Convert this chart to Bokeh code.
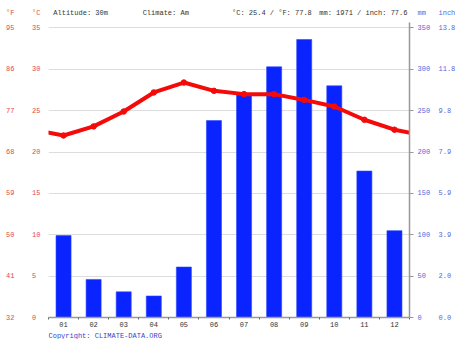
from bokeh.plotting import figure
from bokeh.models import Range1d, LinearAxis, FixedTicker, Title, ColumnDataSource
from bokeh.core.properties import value
from bokeh.embed import file_html
from bokeh.resources import INLINE

# ---------------- data ----------------
months = ["01", "02", "03", "04", "05", "06", "07", "08", "09", "10", "11", "12"]
precip_mm = [99, 46, 31, 26, 61, 238, 269, 303, 336, 280, 177, 105]
temp_c = [22.0, 23.1, 24.9, 27.2, 28.4, 27.4, 27.0, 27.0, 26.3, 25.5, 23.9, 22.7]
c_ticks = [0, 5, 10, 15, 20, 25, 30, 35]
c_labels = ["0", "5", "10", "15", "20", "25", "30", "35"]
f_labels = ["32", "41", "50", "59", "68", "77", "86", "95"]
mm_ticks = [0, 50, 100, 150, 200, 250, 300, 350]
mm_labels = ["0", "50", "100", "150", "200", "250", "300", "350"]
inch_labels = ["0.0", "2.0", "3.9", "5.9", "7.9", "9.8", "11.8", "13.8"]
header_texts = ["Altitude: 30m", "Climate: Am", "°C: 25.4 / °F: 77.8", "mm: 1971 / inch: 77.6"]
copyright_text = "Copyright: CLIMATE-DATA.ORG"

# ---------------- layout constants ----------------
FONT = "Liberation Mono"
FS = "7px"
RED_TXT = "#e0494f"
BLUE_TXT = "#5566dd"
DARK_TXT = "#333333"
NB = "\u00a0"

W, H = 458, 339
FRAME_L, FRAME_R, FRAME_T, FRAME_B = 48, 410, 8, 318
YTOP = 37.35          # top of temperature range (frame top, header row inside)
YHDR = 36.75          # header row
header_x = [0.66, 3.63, 6.6, 9.5]

p = figure(width=W, height=H, output_backend="svg", toolbar_location=None,
           x_range=Range1d(0.5, 12.5), y_range=Range1d(0, YTOP),
           x_axis_location=None, y_axis_location=None,
           min_border_left=FRAME_L, min_border_right=W - FRAME_R,
           min_border_top=FRAME_T, min_border_bottom=H - FRAME_B)
p.extra_y_ranges = {"mm": Range1d(0, YTOP * 10)}
p.outline_line_color = None

x = list(range(1, 13))
p.vbar(x=x, top=precip_mm, width=0.5, bottom=0, y_range_name="mm",
       fill_color="#0a24ff", line_color="#2a44ff", line_width=0.6)

# temperature line, wrapping Dec->Jan at both edges
tx = [0] + x + [13]
ty = [temp_c[-1]] + temp_c + [temp_c[0]]
p.line(tx, ty, line_color="#f50a0a", line_width=4, line_join="round", line_cap="round")
p.scatter(x, temp_c, size=5.5, fill_color="#f50a0a", line_color="#f50a0a")

# header row (inside the frame's top strip)
hsrc = ColumnDataSource(dict(x=header_x, y=[YHDR] * 4, t=header_texts))
p.text(x="x", y="y", text="t", source=hsrc, text_font=value(FONT),
       text_font_size=FS, text_color=DARK_TXT, text_align="left",
       text_baseline="middle")

# grid
p.xgrid.visible = False
p.ygrid.ticker = FixedTicker(ticks=c_ticks[1:])
p.ygrid.grid_line_color = "#dddddd"
p.ygrid.grid_line_width = 1


def plain(ax, color, standoff):
    ax.major_label_text_font = FONT
    ax.major_label_text_font_size = FS
    ax.major_label_text_color = color
    ax.axis_line_color = None
    ax.major_tick_line_color = None
    ax.minor_tick_line_color = None
    ax.major_tick_in = 0
    ax.major_tick_out = 0
    ax.minor_tick_in = 0
    ax.minor_tick_out = 0
    ax.major_label_standoff = standoff


def pad(s, n):
    return s + NB * (n - len(s))


# left: °C (inner) and °F (outer)
ax_c = LinearAxis(ticker=FixedTicker(ticks=c_ticks + [YHDR]),
                  major_label_overrides={**{c: pad(l, 2) for c, l in zip(c_ticks, c_labels)},
                                         YHDR: "°C"})
plain(ax_c, RED_TXT, 8)
p.add_layout(ax_c, "left")

ax_f = LinearAxis(ticker=FixedTicker(ticks=c_ticks + [YHDR]),
                  major_label_overrides={**{c: f for c, f in zip(c_ticks, f_labels)},
                                         YHDR: "°F"})
plain(ax_f, RED_TXT, 15)
p.add_layout(ax_f, "left")

# right: axis line with ticks, mm labels, inch labels
ax_line = LinearAxis(y_range_name="mm", ticker=FixedTicker(ticks=mm_ticks),
                     bounds=(0, 357),
                     major_label_overrides={m: "" for m in mm_ticks})
plain(ax_line, BLUE_TXT, 0)
ax_line.axis_line_color = "#999999"
ax_line.axis_line_width = 1.5
ax_line.major_tick_line_color = "#999999"
ax_line.major_tick_line_width = 1
ax_line.major_tick_out = 4
p.add_layout(ax_line, "right")

ax_mm = LinearAxis(y_range_name="mm", ticker=FixedTicker(ticks=mm_ticks + [YHDR * 10]),
                   major_label_overrides={**{m: l for m, l in zip(mm_ticks, mm_labels)},
                                          YHDR * 10: "mm"})
plain(ax_mm, BLUE_TXT, 4)
p.add_layout(ax_mm, "right")

ax_in = LinearAxis(y_range_name="mm", ticker=FixedTicker(ticks=mm_ticks + [YHDR * 10]),
                   major_label_overrides={**{m: s for m, s in zip(mm_ticks, inch_labels)},
                                          YHDR * 10: "inch"})
plain(ax_in, BLUE_TXT, 5)
p.add_layout(ax_in, "right")

# bottom axis
ax_x = LinearAxis(ticker=FixedTicker(ticks=x, minor_ticks=[i + 0.5 for i in range(0, 13)]),
                  major_label_overrides={i: m for i, m in zip(x, months)})
plain(ax_x, DARK_TXT, 2)
ax_x.axis_line_color = "#999999"
ax_x.axis_line_width = 1.5
ax_x.minor_tick_line_color = "#666666"
ax_x.minor_tick_out = 2
p.add_layout(ax_x, "below")

# copyright line
p.add_layout(Title(text=copyright_text, align="left", offset=0, standoff=0,
                   text_font=FONT, text_font_size=FS, text_font_style="normal",
                   text_color="#3344cc"), "below")

open("out.html", "w").write(file_html(p, INLINE))
